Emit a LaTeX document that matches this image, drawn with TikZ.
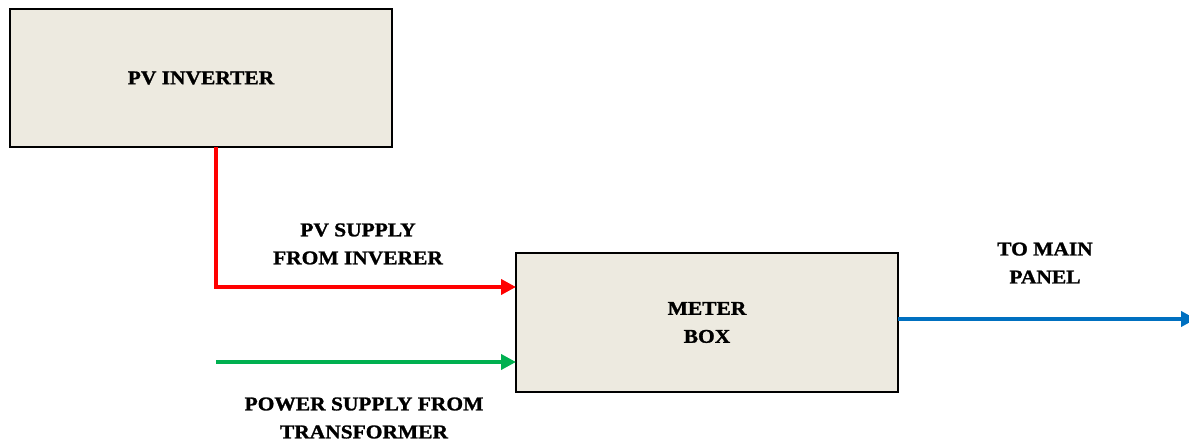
\documentclass[tikz,border=0pt]{standalone}
\usepackage{fontspec}
\setmainfont{Liberation Serif}[FakeStretch=1.1, BoldFeatures={FakeBold=1.3}]
\usetikzlibrary{arrows.meta}
\definecolor{boxfill}{RGB}{237,234,224}
\definecolor{pvred}{RGB}{255,0,0}
\definecolor{gridgreen}{RGB}{0,176,80}
\definecolor{outblue}{RGB}{0,112,192}
\tikzset{
  blockbox/.style={draw=black, fill=boxfill, rectangle, inner sep=0pt, outer sep=0pt,
    font=\fontsize{19.5}{28}\selectfont\bfseries, align=center},
  lbl/.style={font=\fontsize{19.5}{28}\selectfont\bfseries, align=center, inner sep=0pt},
  flow/.style={line width=3.8pt, -{Triangle[length=15pt,width=15pt]}},
}
\begin{document}
\begin{tikzpicture}[x=1pt,y=-1pt]
\useasboundingbox (0,0) rectangle (1189,443);
\node[blockbox, line width=2.5pt, minimum width=382pt, minimum height=138pt] (inv) at (201,78) {PV INVERTER};
\node[blockbox, line width=1.8pt, minimum width=382pt, minimum height=139pt] (meter) at (707,322.5) {METER\\BOX};
\coordinate (redx) at (216,0);
\coordinate (gstart) at (216,362);
\coordinate (bend) at (1196,319);
\draw[flow, pvred] (inv.south -| redx) |- ([yshift=35.5pt]meter.west);
\draw[flow, gridgreen] (gstart) -- ([yshift=-39.5pt]meter.west);
\draw[flow, outblue] ([yshift=3.5pt]meter.east) -- (bend);
\node[lbl] (l1) at (358,244) {PV SUPPLY\\FROM INVERER};
\node[lbl] (l2) at (364,418) {POWER SUPPLY FROM\\TRANSFORMER};
\node[lbl] (l3) at (1045,263) {TO MAIN\\PANEL};
\end{tikzpicture}
\end{document}
